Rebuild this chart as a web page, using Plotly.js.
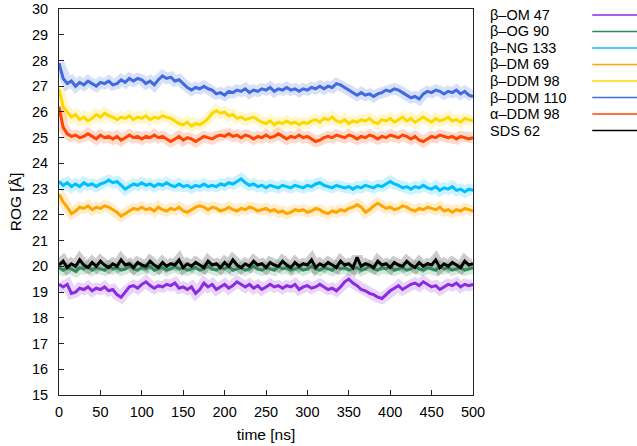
<!DOCTYPE html>
<html>
<head>
<meta charset="utf-8">
<script src="https://cdn.plot.ly/plotly-3.0.1.min.js"></script>
<style>html,body{margin:0;padding:0;background:#fff;}#chart{width:637px;height:446px;}</style>
</head>
<body>
<div id="chart"></div>
<script>
// time axis (ns)
const time = [0,5,10,15,20,25,30,35,40,45,50,55,60,65,70,75,80,85,90,95,100,105,110,115,120,125,130,135,140,145,150,155,160,165,170,175,180,185,190,195,200,205,210,215,220,225,230,235,240,245,250,255,260,265,270,275,280,285,290,295,300,305,310,315,320,325,330,335,340,345,350,355,360,365,370,375,380,385,390,395,400,405,410,415,420,425,430,435,440,445,450,455,460,465,470,475,480,485,490,495,500];

const seriesNames = ["β–OM 47","β–OG 90","β–NG 133","β–DM 69","β–DDM 98","β–DDM 110","α–DDM 98","SDS 62"];
const seriesColors = ["#8a2be2","#2e8b57","#00bfff","#ffa500","#ffd700","#4169e1","#ff4500","#000000"];

const omb47 = [19.3,19.2,19.3,18.95,19.0,19.15,19.1,19.2,19.05,19.15,19.1,19.2,19.05,19.1,18.9,18.8,19.0,19.2,19.25,19.15,19.3,19.4,19.25,19.15,19.25,19.2,19.3,19.25,19.35,19.15,19.2,19.1,19.2,18.95,19.1,19.35,19.2,19.3,19.1,19.2,19.3,19.15,19.25,19.4,19.3,19.2,19.3,19.15,19.25,19.1,19.2,19.3,19.2,19.25,19.15,19.25,19.2,19.3,19.1,19.2,19.25,19.15,19.2,19.3,19.2,19.1,19.15,19.05,19.2,19.4,19.5,19.35,19.25,19.1,19.05,18.95,18.9,18.8,18.75,18.9,19.05,19.15,19.25,19.1,19.2,19.3,19.35,19.25,19.4,19.3,19.2,19.25,19.1,19.2,19.3,19.25,19.35,19.2,19.3,19.25,19.3];
const ogb90 = [19.95,19.85,19.95,19.9,19.8,19.95,19.9,20.0,19.85,19.95,19.9,19.85,20.0,19.9,19.95,19.85,19.9,20.0,19.9,19.85,19.95,19.9,20.0,19.85,19.9,19.95,19.85,19.9,20.0,19.9,19.95,19.85,19.9,19.95,19.85,19.9,20.0,19.9,19.85,19.95,19.9,20.0,19.85,19.9,19.95,19.85,19.9,20.0,19.9,19.85,19.95,19.9,19.85,20.0,19.9,19.95,19.85,19.9,19.95,19.85,19.9,20.0,19.9,19.85,19.95,19.9,19.85,20.0,19.9,19.95,19.85,19.9,19.95,19.85,19.9,20.0,19.9,19.85,19.95,19.9,20.0,19.85,19.9,19.95,19.85,19.9,20.0,19.9,19.85,19.95,19.9,19.85,20.0,19.9,19.95,19.85,19.9,19.95,19.85,19.9,19.95];
const ngb133 = [23.3,23.15,23.25,23.1,23.2,23.1,23.25,23.15,23.2,23.1,23.2,23.25,23.35,23.25,23.3,23.15,23.0,23.1,23.2,23.15,23.25,23.15,23.2,23.1,23.2,23.15,23.25,23.15,23.1,23.2,23.1,23.15,23.05,23.15,23.1,23.2,23.1,23.15,23.1,23.2,23.15,23.25,23.2,23.3,23.4,23.25,23.15,23.2,23.1,23.15,23.05,23.15,23.1,23.05,23.15,23.1,23.05,23.15,23.1,23.05,23.15,23.1,23.2,23.25,23.15,23.1,23.05,23.15,23.1,23.05,23.1,23.0,23.1,23.05,23.15,23.1,23.05,23.15,23.1,23.2,23.3,23.2,23.15,23.05,23.1,23.0,23.1,23.05,23.15,23.05,23.0,23.1,22.95,23.05,23.0,23.1,22.95,23.0,22.9,23.0,22.95];
const dmb69 = [22.8,22.5,22.3,22.05,22.15,22.3,22.25,22.35,22.2,22.3,22.25,22.35,22.3,22.2,22.1,21.95,22.05,22.15,22.25,22.2,22.3,22.2,22.25,22.15,22.3,22.2,22.15,22.25,22.2,22.3,22.15,22.1,22.2,22.3,22.35,22.3,22.2,22.3,22.25,22.15,22.2,22.3,22.2,22.15,22.25,22.2,22.3,22.25,22.15,22.2,22.25,22.15,22.2,22.1,22.15,22.05,22.1,22.2,22.15,22.2,22.1,22.15,22.25,22.2,22.1,22.05,22.15,22.1,22.2,22.15,22.25,22.3,22.4,22.3,22.1,22.2,22.35,22.45,22.35,22.25,22.3,22.2,22.25,22.35,22.3,22.2,22.15,22.25,22.2,22.3,22.25,22.2,22.3,22.15,22.2,22.1,22.2,22.15,22.25,22.2,22.15];
const ddmb98 = [26.9,26.2,26.0,25.8,25.9,25.7,25.8,25.65,25.75,25.9,25.8,25.95,25.85,25.8,25.7,25.8,25.75,25.85,25.7,25.8,25.75,25.85,25.7,25.8,25.75,25.85,25.8,25.75,25.65,25.55,25.5,25.6,25.45,25.55,25.5,25.6,25.75,25.95,26.05,25.95,26.0,25.85,25.9,25.75,25.8,25.7,25.75,25.8,25.7,25.6,25.55,25.65,25.5,25.6,25.55,25.65,25.55,25.6,25.5,25.6,25.55,25.65,25.7,25.6,25.75,25.7,25.8,25.65,25.6,25.7,25.55,25.65,25.6,25.7,25.65,25.75,25.6,25.55,25.7,25.65,25.75,25.6,25.7,25.8,25.65,25.75,25.6,25.7,25.8,25.7,25.6,25.75,25.65,25.7,25.8,25.65,25.7,25.6,25.75,25.7,25.65];
const ddmb110 = [27.9,27.3,27.1,27.2,27.0,27.15,27.05,27.2,27.1,27.0,27.15,27.1,27.2,27.05,27.1,27.25,27.15,27.3,27.2,27.3,27.25,27.1,27.2,27.05,27.25,27.4,27.3,27.35,27.2,27.25,27.1,26.95,26.85,26.95,26.9,27.0,26.9,26.85,26.7,26.75,26.65,26.8,26.75,26.85,26.8,26.9,26.75,26.85,26.8,26.9,26.85,26.95,26.8,26.9,26.85,26.95,26.85,26.9,26.8,26.9,26.85,26.95,26.9,27.0,26.9,27.0,26.95,27.1,27.05,26.95,26.85,26.75,26.65,26.75,26.65,26.7,26.6,26.7,26.75,26.85,26.8,26.9,26.85,26.75,26.65,26.55,26.6,26.5,26.7,26.8,26.75,26.85,26.8,26.7,26.8,26.75,26.85,26.7,26.8,26.65,26.6];
const ddma98 = [26.2,25.4,25.15,25.05,25.1,25.0,25.05,25.15,25.05,24.95,25.1,25.0,25.05,24.95,25.05,24.9,25.0,25.1,25.0,25.05,24.95,25.05,25.0,25.1,25.0,25.05,24.95,24.85,24.95,25.05,24.9,25.0,24.95,24.85,24.95,25.05,25.0,24.95,25.05,25.1,25.05,25.15,25.05,25.1,25.0,25.1,25.05,24.95,25.05,25.0,25.1,25.0,25.05,25.15,25.05,24.95,25.05,25.0,25.1,25.0,25.05,24.95,24.85,24.9,25.0,25.05,25.0,25.1,25.05,25.0,25.1,25.05,24.95,25.05,25.0,25.1,25.05,24.95,25.05,25.0,25.1,25.05,25.0,25.1,25.05,24.95,25.05,24.9,24.85,24.95,25.05,25.0,25.1,25.05,25.0,25.05,24.95,25.05,25.0,24.95,25.0];
const sds62 = [20.05,20.2,19.95,20.1,20.0,20.25,20.05,19.95,20.15,20.0,20.2,20.05,19.95,20.1,20.0,20.25,20.05,20.1,19.95,20.15,20.05,20.0,20.2,20.05,19.95,20.15,20.0,20.1,20.05,20.25,19.95,20.1,20.0,20.15,20.05,19.95,20.2,20.05,20.1,19.95,20.15,20.0,20.25,20.05,19.95,20.1,20.0,20.2,20.05,20.1,19.95,20.15,20.05,20.0,20.2,20.05,19.95,20.15,20.0,20.1,20.05,20.25,19.95,20.1,20.0,20.15,20.05,19.95,20.2,20.05,20.1,19.95,20.35,20.0,20.1,20.05,19.95,20.2,20.05,20.1,19.95,20.15,20.05,20.0,20.2,20.05,19.95,20.15,20.0,20.1,20.05,20.25,19.95,20.1,20.0,20.15,20.05,19.95,20.2,20.05,20.1];

const seriesValues = [omb47, ogb90, ngb133, dmb69, ddmb98, ddmb110, ddma98, sds62];

const traces = [];
// faint raw-data halo for each series
seriesValues.forEach((vals, i) => {
  traces.push({x: time, y: vals, type: 'scatter', mode: 'lines', showlegend: false, hoverinfo: 'skip',
    opacity: 0.2, line: {color: seriesColors[i], width: 11}});
});
// main lines
seriesValues.forEach((vals, i) => {
  traces.push({x: time, y: vals, type: 'scatter', mode: 'lines', name: seriesNames[i], showlegend: false,
    line: {color: seriesColors[i], width: 3}});
});

// custom legend (text left, line sample right, like gnuplot)
const annotations = [];
const shapes = [];
const legTop = 15, legStep = 16.5;
const plotTop = 9, plotBot = 395, plotL = 58.5, plotR = 472.7;
const pxX = px => (px - plotL) / (plotR - plotL);
const pxY = py => (plotBot - py) / (plotBot - plotTop);
seriesNames.forEach((n, i) => {
  const yc = legTop + i * legStep;
  annotations.push({xref: 'paper', yref: 'paper', x: pxX(489), y: pxY(yc), text: n, showarrow: false, borderpad: 0,
    xanchor: 'left', yanchor: 'middle', font: {family: 'Liberation Sans, Arial, sans-serif', size: 14.5, color: '#000'}});
  shapes.push({type: 'line', xref: 'paper', yref: 'paper', x0: pxX(592), x1: pxX(640), y0: pxY(yc), y1: pxY(yc),
    line: {color: seriesColors[i], width: 1.3}});
});

const tickFont = {family: 'Liberation Sans, Arial, sans-serif', size: 14.5, color: '#000'};
const titleFont = {family: 'Liberation Sans, Arial, sans-serif', size: 15.5, color: '#000'};
const layout = {
  width: 637, height: 446,
  margin: {l: plotL, r: 637 - plotR, t: plotTop, b: 446 - plotBot, pad: 0},
  paper_bgcolor: '#fff', plot_bgcolor: '#fff',
  showlegend: false,
  font: tickFont,
  xaxis: {range: [0, 500], tickvals: [0,50,100,150,200,250,300,350,400,450,500], ticks: 'inside', ticklen: 5, tickcolor: '#222', tickwidth: 1,
    showline: true, linecolor: '#222', linewidth: 1, mirror: true, showgrid: false, zeroline: false,
    tickfont: tickFont, ticklabelstandoff: 4, ticklabeloverflow: 'allow',
    title: {text: 'time [ns]', font: titleFont, standoff: 9}},
  yaxis: {range: [15, 30], tickvals: [15,16,17,18,19,20,21,22,23,24,25,26,27,28,29,30], ticks: 'inside', ticklen: 5, tickcolor: '#222', tickwidth: 1,
    showline: true, linecolor: '#222', linewidth: 1, mirror: true, showgrid: false, zeroline: false,
    tickfont: tickFont, ticklabelstandoff: 7, ticklabeloverflow: 'allow',
    title: {text: 'ROG [Å]', font: titleFont, standoff: 6}},
  annotations: annotations,
  shapes: shapes
};

Plotly.newPlot('chart', traces, layout, {displayModeBar: false, staticPlot: true});
</script>
</body>
</html>
